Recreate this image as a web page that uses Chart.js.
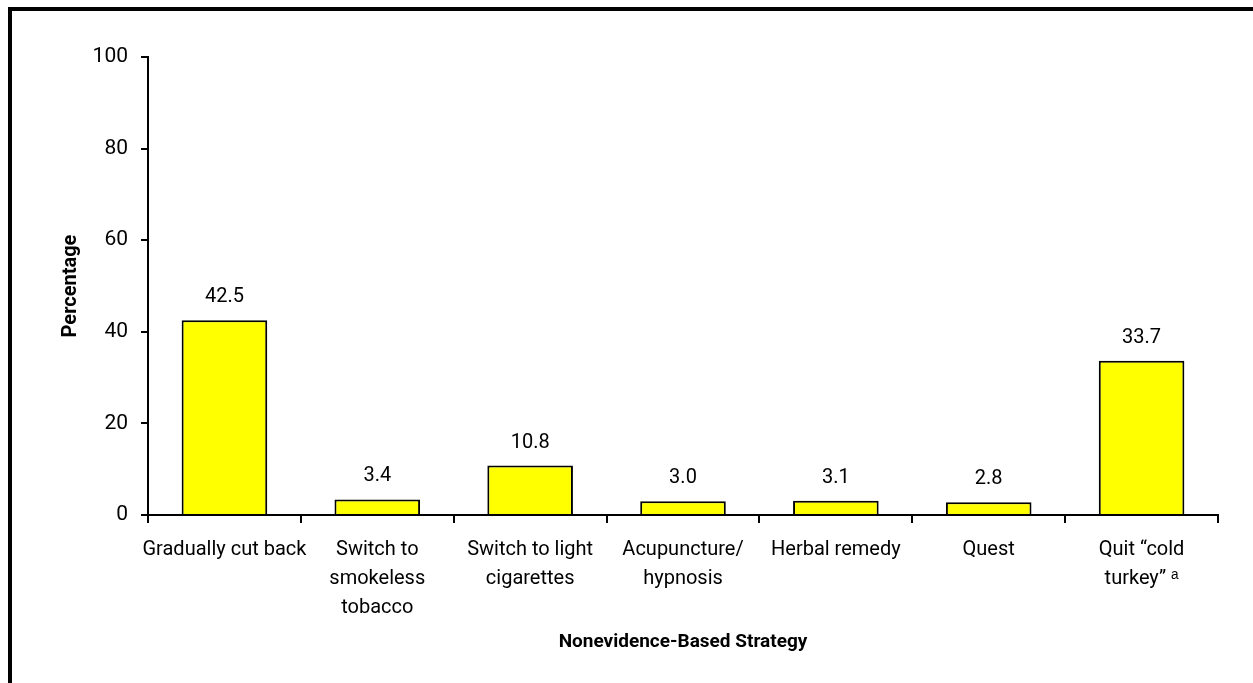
<!DOCTYPE html>
<html>
<head>
<meta charset="utf-8">
<script src="https://cdn.jsdelivr.net/npm/chart.js@4/dist/chart.umd.min.js"></script>
<style>
  body { margin: 0; background: #fff; overflow: hidden; }
  #wrap { position: relative; width: 1253px; height: 683px; }
  #frame {
    position: absolute; left: 8px; top: 7px;
    width: 1400px; height: 800px;
    border: 4px solid #000; pointer-events: none;
  }
</style>
</head>
<body>
<div id="wrap">
  <canvas id="strategyChart" width="1253" height="683"></canvas>
  <div id="frame"></div>
</div>
<script>
const categories = [
    'Gradually cut back',
    ['Switch to', 'smokeless', 'tobacco'],
    ['Switch to light', 'cigarettes'],
    ['Acupuncture/', 'hypnosis'],
    'Herbal remedy',
    'Quest',
    ['Quit \u201Ccold', 'turkey\u201D \u1D43']
];
const percentages = [42.5, 3.4, 10.8, 3.0, 3.1, 2.8, 33.7];
const yTicks = [0, 20, 40, 60, 80, 100];

const FONT = "Roboto, 'Liberation Sans', sans-serif";

// value printed above each bar
const barValues = {
    id: 'barValues',
    afterDatasetsDraw(chart) {
        const ctx = chart.ctx;
        const meta = chart.getDatasetMeta(0);
        ctx.save();
        ctx.fillStyle = '#000';
        ctx.font = '20px ' + FONT;
        ctx.textAlign = 'center';
        ctx.textBaseline = 'middle';
        meta.data.forEach((bar, i) => {
            ctx.fillText(percentages[i].toFixed(1), bar.x, bar.y - 23);
        });
        ctx.restore();
    }
};

function createStrategyChart() {
    const ctx = document.getElementById('strategyChart').getContext('2d');
    new Chart(ctx, {
        type: 'bar',
        data: {
            labels: categories,
            datasets: [{
                data: percentages,
                backgroundColor: '#FFFF00',
                borderColor: '#000',
                borderWidth: 2,
                barPercentage: 0.56,
                categoryPercentage: 1
            }]
        },
        options: {
            responsive: false,
            animation: false,
            layout: { padding: { left: 0, right: 35, top: 57, bottom: 0 } },
            plugins: { legend: { display: false }, tooltip: { enabled: false } },
            scales: {
                x: {
                    grid: { drawOnChartArea: false, tickLength: 8, color: '#000', lineWidth: 2, offset: true },
                    border: { color: '#000', width: 2 },
                    ticks: {
                        color: '#000',
                        font: { family: FONT, size: 20, lineHeight: 1.45 },
                        padding: 12,
                        maxRotation: 0,
                        autoSkip: false
                    },
                    title: {
                        display: true,
                        text: 'Nonevidence-Based Strategy',
                        color: '#000',
                        font: { family: FONT, size: 19, weight: 'bold' },
                        padding: { top: 0, bottom: 29 }
                    },
                    afterFit(scale) { scale.height = 168; }
                },
                y: {
                    min: 0,
                    max: 100,
                    afterBuildTicks(scale) { scale.ticks = yTicks.map(v => ({ value: v })); },
                    grid: { drawOnChartArea: false, tickLength: 7, color: '#000', lineWidth: 2 },
                    border: { color: '#000', width: 2 },
                    ticks: { color: '#000', font: { family: FONT, size: 21 }, padding: 13 },
                    title: {
                        display: true,
                        text: 'Percentage',
                        color: '#000',
                        font: { family: FONT, size: 20, weight: 'bold' },
                        padding: { top: 59, bottom: 0 }
                    },
                    afterFit(scale) { scale.width = 148; }
                }
            }
        },
        plugins: [barValues]
    });
}

document.addEventListener('DOMContentLoaded', createStrategyChart);
</script>
</body>
</html>
